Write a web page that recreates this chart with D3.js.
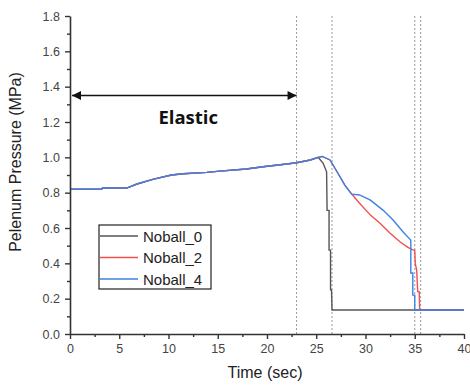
<!DOCTYPE html>
<html>
<head>
<meta charset="utf-8">
<script src="https://cdn.jsdelivr.net/npm/d3@7"></script>
<style>
  body { margin: 0; background: #fff; }
  svg { display: block; font-family: "Liberation Sans", Arial, sans-serif; }
</style>
</head>
<body>
<div id="chart"></div>
<script>
// series (time in sec, pressure in MPa)
const noball0T = [0, 3.2, 3.3, 5.75, 6.8, 8.5, 10.3, 11.5, 13.9, 15.2, 17.9, 19.6, 22.0, 23.0, 24.4, 25.2, 25.7, 26.05, 26.1, 26.3, 26.3, 26.45, 26.45, 26.55, 26.6, 40];
const noball0V = [0.819, 0.819, 0.826, 0.826, 0.849, 0.877, 0.9, 0.907, 0.915, 0.922, 0.934, 0.947, 0.962, 0.969, 0.985, 1.0, 0.966, 0.918, 0.70, 0.70, 0.475, 0.475, 0.25, 0.25, 0.136, 0.136];

const noball2T = [0, 3.2, 3.3, 5.75, 6.8, 8.5, 10.3, 11.5, 13.9, 15.2, 17.9, 19.6, 22.0, 23.0, 24.4, 25.2, 25.6, 26.4, 27.2, 27.9, 28.6, 29.4, 30.5, 31.5, 32.5, 33.5, 34.3, 34.85, 35.0, 35.05, 35.2, 35.3, 35.45, 35.5, 40];
const noball2V = [0.819, 0.819, 0.826, 0.826, 0.849, 0.877, 0.9, 0.907, 0.915, 0.922, 0.934, 0.947, 0.962, 0.969, 0.985, 1.0, 1.005, 0.985, 0.91, 0.843, 0.792, 0.74, 0.673, 0.626, 0.57, 0.522, 0.49, 0.475, 0.475, 0.40, 0.36, 0.24, 0.24, 0.136, 0.136];

const noball4T = [0, 3.2, 3.3, 5.75, 6.8, 8.5, 10.3, 11.5, 13.9, 15.2, 17.9, 19.6, 22.0, 23.0, 24.4, 25.2, 25.6, 26.4, 27.2, 27.9, 28.6, 29.4, 30.5, 31.8, 32.8, 33.8, 34.5, 34.6, 34.6, 34.8, 34.8, 35.0, 35.0, 40];
const noball4V = [0.819, 0.819, 0.826, 0.826, 0.849, 0.877, 0.9, 0.907, 0.915, 0.922, 0.934, 0.947, 0.962, 0.969, 0.985, 1.0, 1.005, 0.985, 0.91, 0.843, 0.792, 0.787, 0.758, 0.70, 0.645, 0.579, 0.537, 0.53, 0.345, 0.345, 0.22, 0.22, 0.136, 0.136];

const seriesNames = ['Noball_0', 'Noball_2', 'Noball_4'];
const markerTimes = [23.0, 26.6, 35.0, 35.6];   // dotted verticals
const elasticRange = [0, 23];
const elasticLevel = 1.35;
const xTicks = [0, 5, 10, 15, 20, 25, 30, 35, 40];
const yTicks = [0.0, 0.2, 0.4, 0.6, 0.8, 1.0, 1.2, 1.4, 1.6, 1.8];

const W = 470, H = 385;
const margin = {top: 16, right: 6, bottom: 51, left: 70};
const chartW = W - margin.left - margin.right;
const chartH = H - margin.top - margin.bottom;

const color = d3.scaleOrdinal().domain(seriesNames).range(['#555555', '#f0504e', '#3b82e6']);
const x = d3.scaleLinear().domain([0, 40]).range([0, chartW]);
const y = d3.scaleLinear().domain([0, 1.8]).range([chartH, 0]);

const svg = d3.select('#chart').append('svg').attr('width', W).attr('height', H);
const g = svg.append('g').attr('transform', 'translate(' + margin.left + ',' + margin.top + ')');

// dotted marker lines
g.selectAll('.marker').data(markerTimes).enter().append('line')
    .attr('x1', d => x(d)).attr('x2', d => x(d))
    .attr('y1', y(1.8)).attr('y2', y(0))
    .attr('stroke', '#999').attr('stroke-width', 1).attr('stroke-dasharray', '2,2');

// series lines (Noball_4 on top)
const series = [
  {name: 'Noball_0', t: noball0T, v: noball0V},
  {name: 'Noball_2', t: noball2T, v: noball2V},
  {name: 'Noball_4', t: noball4T, v: noball4V}
];
const line = d3.line().x(p => x(p[0])).y(p => y(p[1]));
g.selectAll('.series').data(series).enter().append('path')
    .attr('fill', 'none')
    .attr('stroke', d => color(d.name))
    .attr('stroke-width', 1.4)
    .attr('d', d => line(d.t.map((t, i) => [t, d.v[i]])));

// axes with minor ticks
const axisColor = '#333';
function styleAxis(sel) {
  sel.select('.domain').attr('stroke', axisColor).attr('stroke-width', 1.6);
  sel.selectAll('.tick line').attr('stroke', axisColor).attr('stroke-width', 1.4);
  sel.selectAll('.tick text').attr('fill', '#444').style('font-size', '12.5px');
}
const xMinor = g.append('g').attr('transform', 'translate(0,' + chartH + ')')
    .call(d3.axisBottom(x).tickValues(d3.range(2.5, 40, 5)).tickSize(3).tickFormat(''));
xMinor.select('.domain').remove();
xMinor.selectAll('line').attr('stroke', axisColor).attr('stroke-width', 1.4);
const yMinor = g.append('g')
    .call(d3.axisLeft(y).tickValues(d3.range(0.1, 1.8, 0.2)).tickSize(3).tickFormat(''));
yMinor.select('.domain').remove();
yMinor.selectAll('line').attr('stroke', axisColor).attr('stroke-width', 1.4);

g.append('g').attr('transform', 'translate(0,' + chartH + ')')
    .call(d3.axisBottom(x).tickValues(xTicks).tickSize(5).tickPadding(5).tickSizeOuter(0).tickFormat(d3.format('d')))
    .call(styleAxis);
g.append('g')
    .call(d3.axisLeft(y).tickValues(yTicks).tickSize(5).tickPadding(5).tickSizeOuter(0).tickFormat(d3.format('.1f')))
    .call(styleAxis);

// axis titles
svg.append('text').attr('x', margin.left + x(20) - 2).attr('y', 378)
    .attr('text-anchor', 'middle').attr('fill', '#222').style('font-size', '16px').text('Time (sec)');
svg.append('text').attr('transform', 'translate(21,' + 162 + ') rotate(-90)')
    .attr('text-anchor', 'middle').attr('fill', '#222').style('font-size', '16px').text('Pelenum Pressure (MPa)');

// elastic arrow
const defs = svg.append('defs');
defs.append('marker').attr('id', 'ah').attr('viewBox', '0 0 10 10')
    .attr('refX', 10).attr('refY', 5).attr('markerWidth', 10).attr('markerHeight', 9)
    .attr('markerUnits', 'userSpaceOnUse').attr('orient', 'auto-start-reverse')
    .append('path').attr('d', 'M0,0 L10,5 L0,10 Z').attr('fill', '#111');
g.append('line')
    .attr('x1', x(elasticRange[0]) + 2).attr('x2', x(elasticRange[1]))
    .attr('y1', y(elasticLevel)).attr('y2', y(elasticLevel))
    .attr('stroke', '#111').attr('stroke-width', 1.6)
    .attr('marker-start', 'url(#ah)').attr('marker-end', 'url(#ah)');
g.append('text').attr('x', x(12)).attr('y', y(elasticLevel) + 28)
    .attr('text-anchor', 'middle').attr('fill', '#111')
    .style('font-family', '"Open Sans", sans-serif').style('font-weight', 'bold').style('font-size', '18.5px')
    .text('Elastic');

// legend
const legend = svg.append('g').attr('transform', 'translate(99,225)');
legend.append('rect').attr('width', 112).attr('height', 64)
    .attr('fill', '#fff').attr('stroke', '#222').attr('stroke-width', 1.2);
const items = legend.selectAll('.item').data(seriesNames).enter().append('g')
    .attr('transform', (d, i) => 'translate(0,' + (11 + i * 21.5) + ')');
items.append('line').attr('x1', 1).attr('x2', 39).attr('y1', 0).attr('y2', 0)
    .attr('stroke', d => color(d)).attr('stroke-width', 1.4);
items.append('text').attr('x', 44).attr('y', 5.5).attr('fill', '#222')
    .style('font-size', '15px').text(d => d);
</script>
</body>
</html>
